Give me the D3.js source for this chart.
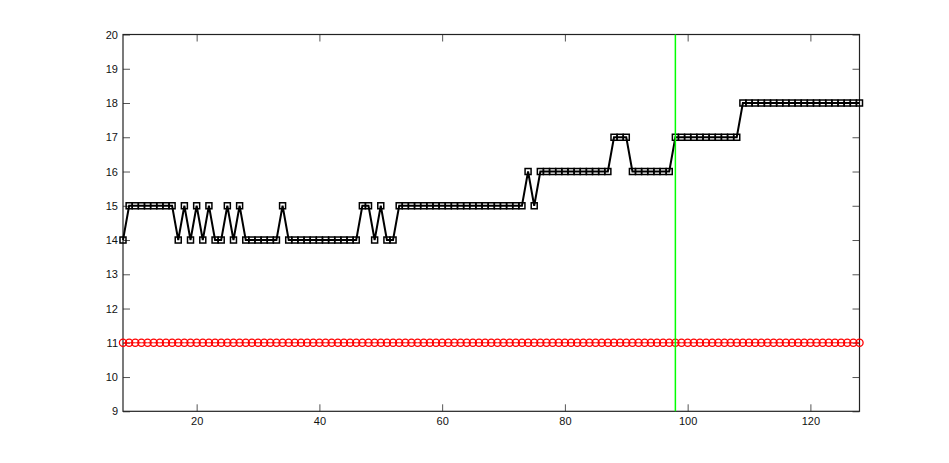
<!DOCTYPE html>
<html>
<head>
<meta charset="utf-8">
<script src="https://cdn.jsdelivr.net/npm/d3@7/dist/d3.min.js"></script>
<style>
  html, body { margin: 0; padding: 0; background: #fff; }
  svg { display: block; }
  .tick text { font-family: "Liberation Sans", Arial, Helvetica, sans-serif; font-size: 11px; fill: #111; }
</style>
</head>
<body>
<svg id="chart" width="949" height="463"></svg>
<script>
// ---- data ----
const xValues = [8,9,10,11,12,13,14,15,16,17,18,19,20,21,22,23,24,25,26,27,28,29,30,31,32,33,34,35,36,37,38,39,40,41,42,43,44,45,46,47,48,49,50,51,52,53,54,55,56,57,58,59,60,61,62,63,64,65,66,67,68,69,70,71,72,73,74,75,76,77,78,79,80,81,82,83,84,85,86,87,88,89,90,91,92,93,94,95,96,97,98,99,100,101,102,103,104,105,106,107,108,109,110,111,112,113,114,115,116,117,118,119,120,121,122,123,124,125,126,127,128];
const blackSeries = [14,15,15,15,15,15,15,15,15,14,15,14,15,14,15,14,14,15,14,15,14,14,14,14,14,14,15,14,14,14,14,14,14,14,14,14,14,14,14,15,15,14,15,14,14,15,15,15,15,15,15,15,15,15,15,15,15,15,15,15,15,15,15,15,15,15,16,15,16,16,16,16,16,16,16,16,16,16,16,16,17,17,17,16,16,16,16,16,16,16,17,17,17,17,17,17,17,17,17,17,17,18,18,18,18,18,18,18,18,18,18,18,18,18,18,18,18,18,18,18,18];
const redSeries = [11,11,11,11,11,11,11,11,11,11,11,11,11,11,11,11,11,11,11,11,11,11,11,11,11,11,11,11,11,11,11,11,11,11,11,11,11,11,11,11,11,11,11,11,11,11,11,11,11,11,11,11,11,11,11,11,11,11,11,11,11,11,11,11,11,11,11,11,11,11,11,11,11,11,11,11,11,11,11,11,11,11,11,11,11,11,11,11,11,11,11,11,11,11,11,11,11,11,11,11,11,11,11,11,11,11,11,11,11,11,11,11,11,11,11,11,11,11,11,11,11];
const markerX = 98;
const xDomain = [8, 128];
const yDomain = [9, 20];
const xTicks = [20, 40, 60, 80, 100, 120];
const yTicks = [9, 10, 11, 12, 13, 14, 15, 16, 17, 18, 19, 20];

(function () {
const svg = d3.select("#chart");
const pLeft = 123, pRight = 859.5, pTop = 34.5, pBottom = 411.3;
const x = d3.scaleLinear().domain(xDomain).range([pLeft, pRight]);
const y = d3.scaleLinear().domain(yDomain).range([pBottom, pTop]);

const tickLen = 7;
const axisColor = "#222";

const gB = svg.append("g").attr("transform", `translate(0,${pBottom})`)
  .call(d3.axisBottom(x).tickValues(xTicks).tickSize(-tickLen).tickPadding(6).tickFormat(d3.format("d")));
const gT = svg.append("g").attr("transform", `translate(0,${pTop})`)
  .call(d3.axisTop(x).tickValues(xTicks).tickSize(-tickLen).tickFormat(""));
const gL = svg.append("g").attr("transform", `translate(${pLeft},0)`)
  .call(d3.axisLeft(y).tickValues(yTicks).tickSize(-tickLen).tickPadding(5).tickFormat(d3.format("d")));
const gR = svg.append("g").attr("transform", `translate(${pRight},0)`)
  .call(d3.axisRight(y).tickValues(yTicks).tickSize(-tickLen).tickFormat(""));

[gB, gT, gL, gR].forEach(g => {
  g.select(".domain").remove();
  g.selectAll(".tick line").attr("stroke", "#555").attr("stroke-width", 1);
});
svg.append("rect").attr("x", pLeft).attr("y", pTop).attr("width", pRight - pLeft).attr("height", pBottom - pTop)
  .attr("fill", "none").attr("stroke", axisColor).attr("stroke-width", 1.2);

const line = d3.line().x(d => x(d[0])).y(d => y(d[1]));

// red series
const redData = xValues.map((v, i) => [v, redSeries[i]]);
svg.append("path").datum(redData).attr("d", line)
  .attr("fill", "none").attr("stroke", "#ff0000").attr("stroke-width", 1);
svg.append("g").selectAll("circle").data(redData).join("circle")
  .attr("cx", d => x(d[0])).attr("cy", d => y(d[1])).attr("r", 3.6)
  .attr("fill", "none").attr("stroke", "#ff0000").attr("stroke-width", 1.3);

// black series
const blackData = xValues.map((v, i) => [v, blackSeries[i]]);
svg.append("path").datum(blackData).attr("d", line)
  .attr("fill", "none").attr("stroke", "#000").attr("stroke-width", 2);
const sq = 6;
svg.append("g").selectAll("rect").data(blackData).join("rect")
  .attr("x", d => x(d[0]) - sq / 2).attr("y", d => y(d[1]) - sq / 2)
  .attr("width", sq).attr("height", sq)
  .attr("fill", "none").attr("stroke", "#000").attr("stroke-width", 1.5);

// green vertical line
svg.append("line")
  .attr("x1", x(markerX)).attr("x2", x(markerX))
  .attr("y1", pTop).attr("y2", pBottom)
  .attr("stroke", "#00ff00").attr("stroke-width", 1.5);
})();
</script>
</body>
</html>
